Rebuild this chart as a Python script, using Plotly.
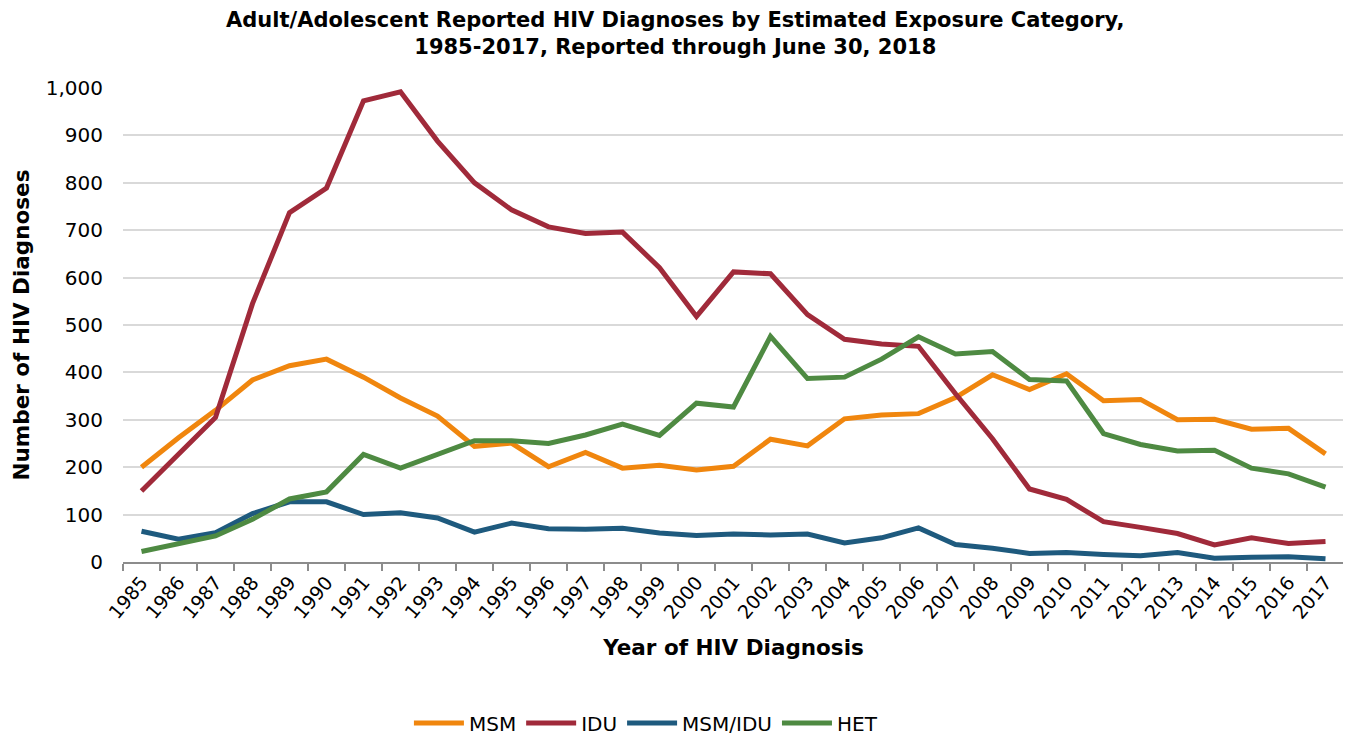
import plotly.graph_objects as go

years = [str(y) for y in range(1985, 2018)]

msm = [200, 262, 320, 384, 414, 428, 390, 346, 308, 244, 251, 201, 231, 198, 204, 194, 202,
       259, 245, 302, 310, 313, 347, 395, 364, 397, 340, 343, 300, 301, 280, 282, 228]
idu = [150, 226, 305, 545, 737, 789, 973, 992, 888, 800, 743, 707, 693, 696, 621, 518, 612,
       608, 522, 470, 460, 455, 355, 260, 154, 132, 85, 73, 60, 36, 51, 39, 43]
msm_idu = [65, 48, 62, 102, 127, 127, 100, 104, 93, 63, 82, 70, 69, 71, 61, 56, 59,
           57, 59, 40, 51, 72, 37, 29, 18, 20, 16, 13, 20, 8, 10, 11, 7]
het = [22, 38, 55, 90, 133, 148, 227, 198, 228, 256, 256, 250, 268, 291, 267, 335, 327,
       476, 387, 390, 428, 475, 439, 444, 385, 382, 271, 248, 234, 236, 198, 186, 158]

series = [("MSM", msm, "#F0860E"), ("IDU", idu, "#A02A3A"),
          ("MSM/IDU", msm_idu, "#1E5A7E"), ("HET", het, "#4E8A42")]

title_text = ("<b>Adult/Adolescent Reported HIV Diagnoses by Estimated Exposure Category,"
              "<br>1985-2017, Reported through June 30, 2018</b>")

FONT = "DejaVu Sans, Verdana, sans-serif"

fig = go.Figure()
for name, vals, color in series:
    fig.add_trace(go.Scatter(x=years, y=vals, name=name, mode="lines",
                             line=dict(color=color, width=5)))

fig.add_annotation(
    text=title_text, xref="paper", yref="paper", x=0.4529, y=1.114,
    xanchor="center", yanchor="middle", showarrow=False,
    font=dict(family=FONT, size=21, color="black"),
)

fig.update_layout(
    width=1343, height=728,
    paper_bgcolor="white", plot_bgcolor="white",
    font=dict(family=FONT, color="black", size=20),
    margin=dict(l=115, r=7, t=80, b=174, autoexpand=False),
    xaxis=dict(
        type="category", range=[-0.5, 32.5], tickson="boundaries",
        ticks="outside", ticklen=7, tickcolor="#8c8c8c", tickwidth=1.5,
        showline=True, linecolor="#8c8c8c", linewidth=1.5,
        showgrid=False, tickangle=-50, tickfont=dict(size=19),
        title=dict(text="<b>Year of HIV Diagnosis</b>", font=dict(size=21.5), standoff=18),
        automargin=False,
    ),
    yaxis=dict(
        range=[0, 1000], dtick=100, tickformat=",",
        showgrid=True, gridcolor="#d9d9d9", gridwidth=2,
        zeroline=False, showline=False, ticks="", ticklabelstandoff=19,
        tickfont=dict(size=20),
        title=dict(text="<b>Number of HIV Diagnoses</b>", font=dict(size=21.5), standoff=10),
        automargin=False,
    ),
    legend=dict(
        orientation="h", x=0.475, xref="container", xanchor="center",
        y=0.018, yref="container", yanchor="middle",
        font=dict(size=20), traceorder="normal", itemwidth=50,
    ),
)

fig.write_html("out.html")
